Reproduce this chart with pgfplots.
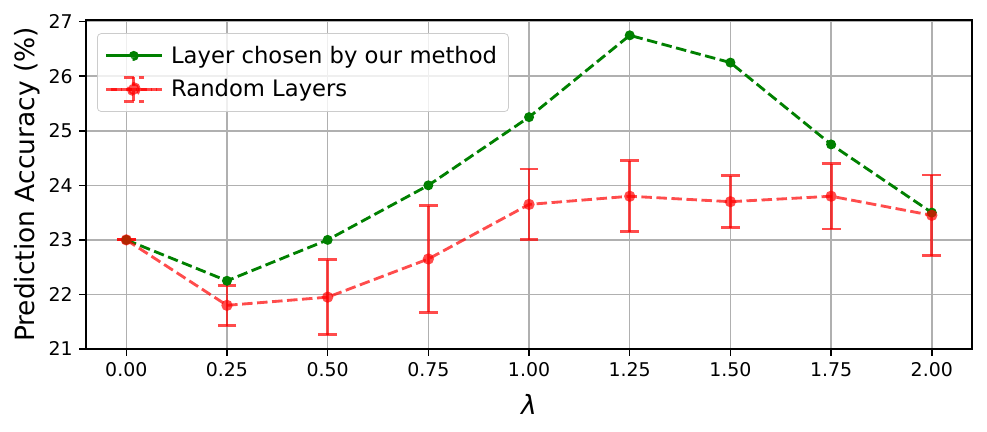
\documentclass[border=0pt]{standalone}
\usepackage{fontspec}
\setmainfont{DejaVu Sans}
\usepackage{pgfplots}
\pgfplotsset{compat=1.18}

\definecolor{mplgreen}{RGB}{0,128,0}
\definecolor{gridgray}{HTML}{B0B0B0}
\definecolor{legedge}{HTML}{CCCCCC}

\begin{document}
\begin{tikzpicture}
\path[use as bounding box] (-45.5pt,-43.9pt) rectangle (476.6pt,184.6pt);
\begin{axis}[
    at={(0pt,0pt)}, anchor=south west,
    scale only axis,
    width=468.7pt, height=174.0pt,
    xmin=-0.1, xmax=2.1,
    ymin=21, ymax=27.03,
    xtick={0,0.25,0.5,0.75,1,1.25,1.5,1.75,2},
    ytick={21,22,23,24,25,26,27},
    xticklabel style={/pgf/number format/.cd, fixed, fixed zerofill, precision=2},
    /pgf/number format/assume math mode=true,
    tick label style={font=\fontsize{10}{12}\selectfont},
    tick align=outside,
    tick pos=left,
    major tick length=3.5pt,
    every tick/.style={black, line width=0.8pt},
    grid=major,
    major grid style={gridgray, line width=0.8pt},
    axis line style={line width=0.8pt},
    xlabel={\itshape λ},
    ylabel={Prediction Accuracy (\%)},
    label style={font=\fontsize{14}{17}\selectfont},
    xlabel style={at={(axis description cs:0.5,-0.170)}, anchor=center},
    ylabel style={at={(axis description cs:-0.0666,0.5)}, anchor=center},
    legend style={
        at={(axis description cs:0.0124,0.96)}, anchor=north west,
        draw=legedge, rounded corners=2pt,
        fill=white, fill opacity=0.8, text opacity=1,
        font=\fontsize{12}{14}\selectfont,
        inner xsep=4pt, inner ysep=4.5pt,
        row sep=3pt,
        cells={anchor=west},
    },
]

% Layer chosen by our method
\addplot[
    color=mplgreen, line width=1.5pt,
    dash pattern=on 5.55pt off 2.4pt,
    mark=*, mark size=1.85pt, mark options={solid},
    legend image code/.code={
        \path (-2.5pt,0pt) -- (29pt,0pt);
        \draw[mplgreen, line width=1.5pt, dash pattern=on 5.55pt off 2.4pt] (0pt,0pt) -- (24pt,0pt);
        \fill[mplgreen] (12pt,0pt) circle (1.85pt);
    },
] coordinates {
    (0.00,23.00) (0.25,22.25) (0.50,23.00) (0.75,24.00) (1.00,25.25)
    (1.25,26.75) (1.50,26.25) (1.75,24.75) (2.00,23.50)
};
\addlegendentry{Layer chosen by our method}

% Random Layers (mean +- std)
\addplot[
    color=red, draw opacity=0.7, line width=1.5pt,
    dash pattern=on 5.55pt off 2.4pt,
    mark=*, mark size=3pt,
    mark options={solid, fill=red, fill opacity=0.7, draw opacity=0},
    error bars/.cd, y dir=both, y explicit,
    error bar style={solid, red, line width=1.5pt, draw opacity=0.7},
    error mark options={rotate=90, mark size=5pt, red, line width=1.5pt, draw opacity=0.7, solid},
] plot[legend image code/.code={
        \path (-2.5pt,0pt) -- (29pt,0pt);
        \draw[red, draw opacity=0.7, line width=1.5pt, dash pattern=on 5.55pt off 2.4pt] (0pt,0pt) -- (24pt,0pt);
        \draw[red, draw opacity=0.7, line width=1.5pt] (12pt,-6.4pt) -- (12pt,6.4pt);
        \draw[red, draw opacity=0.7, line width=1.5pt] (6.7pt,-6.4pt) -- (17.3pt,-6.4pt);
        \draw[red, draw opacity=0.7, line width=1.5pt] (6.7pt,6.4pt) -- (17.3pt,6.4pt);
        \fill[red, fill opacity=0.7] (12pt,0pt) circle (3pt);
    }] coordinates {
    (0.00,23.00) +- (0,0.00)
    (0.25,21.80) +- (0,0.37)
    (0.50,21.95) +- (0,0.69)
    (0.75,22.65) +- (0,0.98)
    (1.00,23.65) +- (0,0.65)
    (1.25,23.80) +- (0,0.65)
    (1.50,23.70) +- (0,0.48)
    (1.75,23.80) +- (0,0.60)
    (2.00,23.45) +- (0,0.74)
};
\addlegendentry{Random Layers}

\end{axis}
\end{tikzpicture}
\end{document}
